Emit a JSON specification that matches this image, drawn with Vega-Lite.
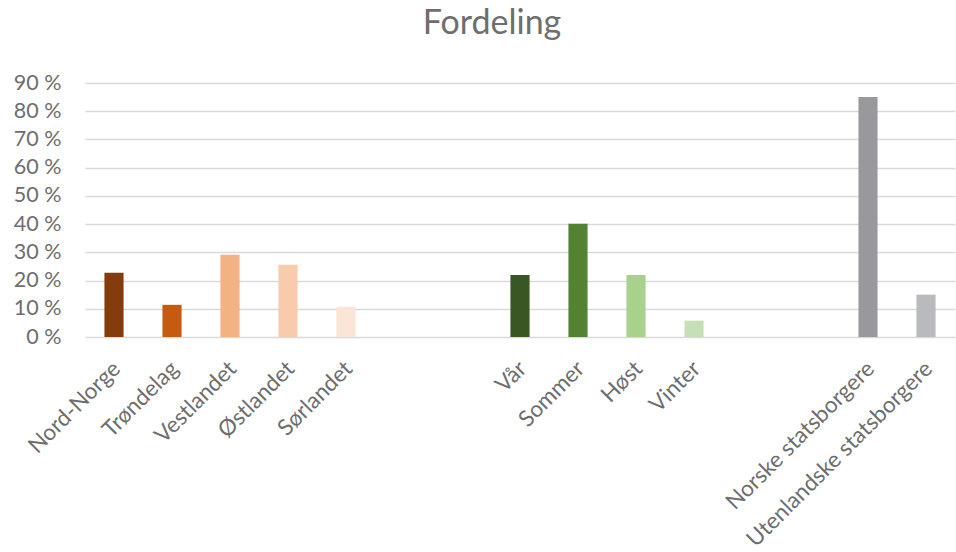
{
  "$schema": "https://vega.github.io/schema/vega-lite/v6.json",
  "width": 870,
  "height": 254,
  "autosize": {"type": "none"},
  "padding": {"left": 85, "top": 83, "right": 1, "bottom": 215},
  "background": "white",
  "config": {"view": {"stroke": null}},
  "title": {
    "text": "Fordeling",
    "font": "Lato",
    "fontSize": 34,
    "fontWeight": "normal",
    "color": "#6E6E6E",
    "anchor": "middle",
    "frame": "group",
    "offset": 31,
    "dx": -28
  },
  "data": {
    "values": [
      {"kategori": "Nord-Norge", "andel": 22.8},
      {"kategori": "Trøndelag", "andel": 11.4},
      {"kategori": "Vestlandet", "andel": 29.1},
      {"kategori": "Østlandet", "andel": 25.6},
      {"kategori": "Sørlandet", "andel": 10.7},
      {"kategori": "Vår", "andel": 22.0},
      {"kategori": "Sommer", "andel": 40.1},
      {"kategori": "Høst", "andel": 22.0},
      {"kategori": "Vinter", "andel": 5.8},
      {"kategori": "Norske statsborgere", "andel": 85.0},
      {"kategori": "Utenlandske statsborgere", "andel": 15.0}
    ]
  },
  "mark": {"type": "bar"},
  "encoding": {
    "x": {
      "field": "kategori",
      "type": "nominal",
      "sort": null,
      "scale": {
        "domain": ["Nord-Norge", "Trøndelag", "Vestlandet", "Østlandet", "Sørlandet", "_1", "_2", "Vår", "Sommer", "Høst", "Vinter", "_3", "_4", "Norske statsborgere", "Utenlandske statsborgere"],
        "paddingInner": 0.67,
        "paddingOuter": 0.335
      },
      "axis": {
        "title": null,
        "labelAngle": -45,
        "labelFont": "Lato",
        "labelFontSize": 22.5,
        "labelColor": "#6E6E6E",
        "labelLimit": 0,
        "labelPadding": 20,
        "labelOffset": -5,
        "domain": false,
        "ticks": false,
        "grid": false,
        "labelExpr": "slice(datum.label, 0, 1) == '_' ? '' : datum.label"
      }
    },
    "y": {
      "field": "andel",
      "type": "quantitative",
      "scale": {"domain": [0, 90], "nice": false},
      "axis": {
        "title": null,
        "values": [0, 10, 20, 30, 40, 50, 60, 70, 80, 90],
        "labelExpr": "datum.value + ' %'",
        "labelFont": "Lato",
        "labelFontSize": 21.5,
        "labelColor": "#6E6E6E",
        "labelPadding": 24,
        "domain": false,
        "ticks": false,
        "gridColor": "#D9D9D9",
        "gridWidth": 1.5
      }
    },
    "color": {
      "field": "kategori",
      "type": "nominal",
      "scale": {
        "domain": ["Nord-Norge", "Trøndelag", "Vestlandet", "Østlandet", "Sørlandet", "Vår", "Sommer", "Høst", "Vinter", "Norske statsborgere", "Utenlandske statsborgere"],
        "range": ["#843C0C", "#C55A11", "#F4B183", "#F8CBAD", "#FBE5D6", "#385723", "#548235", "#A9D18E", "#C5E0B4", "#99989C", "#B9BABE"]
      },
      "legend": null
    }
  }
}
